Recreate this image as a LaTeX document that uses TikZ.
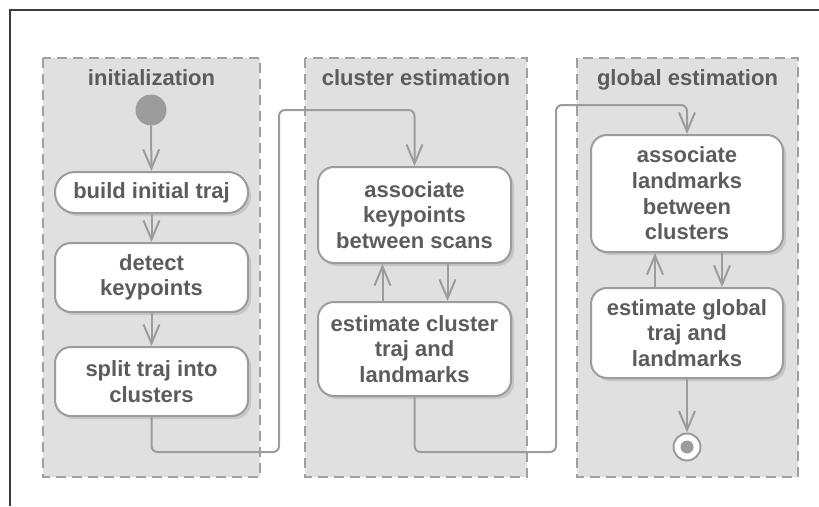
\documentclass[tikz,border=0pt]{standalone}
\usepackage{fontspec}
\setmainfont{Liberation Sans}
\usetikzlibrary{arrows.meta}

\definecolor{lanefill}{HTML}{E0E0E0}
\definecolor{lanedash}{HTML}{A0A0A0}
\definecolor{flow}{HTML}{9C9C9C}
\definecolor{inktext}{HTML}{5C5C5C}
\definecolor{boxshade}{HTML}{C6C6C6}
\definecolor{frameink}{HTML}{3C3C3C}

\begin{document}
\begin{tikzpicture}[x=1pt, y=-1pt,
  lane/.style={fill=lanefill, draw=lanedash, line width=2pt, dash pattern=on 10pt off 6pt},
  lanetitle/.style={anchor=base, text=inktext, inner sep=0pt,
    font=\bfseries\fontsize{22}{25}\selectfont},
  action/.style={draw=flow, line width=2pt, fill=white, align=center, text=inktext,
    inner sep=0pt, minimum width=193pt, rounded corners=16pt,
    font=\bfseries\fontsize{22}{25.6}\selectfont,
    preaction={fill=boxshade, transform canvas={shift={(3pt,-3pt)}}}},
  flowline/.style={draw=flow, line width=2pt, rounded corners=6pt,
    -{Straight Barb[length=19pt,width=16pt]}},
]
\useasboundingbox (0,0) rectangle (819,506);

% outer frame (top and left edges)
\draw[frameink, line width=1.5pt] (10,506) -- (10,10) -- (819,10);

% swimlanes
\draw[lane] (43,58) rectangle (260,477);
\draw[lane] (305,58) rectangle (527,477);
\draw[lane] (577,58) rectangle (798,477);

\node[lanetitle] (t1) at (151.5,85) {initialization};
\node[lanetitle] (t2) at (416,85) {cluster estimation};
\node[lanetitle] (t3) at (687.5,85) {global estimation};

% initialization lane
\node[circle, fill=flow, minimum size=31pt, inner sep=0pt] (start) at (151,110) {};
\node[action, minimum height=41pt, rounded corners=20pt] (b1) at (151.5,192.5) {build initial traj};
\node[action, minimum height=69pt] (b2) at (151.5,277.5) {detect\\keypoints};
\node[action, minimum height=69pt] (b3) at (151.5,381.5) {split traj into\\clusters};

% cluster estimation lane
\node[action, minimum height=96pt] (c1) at (414.5,215) {associate\\keypoints\\between scans};
\node[action, minimum height=94pt] (c2) at (414.5,349) {estimate cluster\\traj and\\landmarks};

% global estimation lane
\node[action, minimum height=117pt, minimum width=192pt] (g1) at (687,193.5) {associate\\landmarks\\between\\clusters};
\node[action, minimum height=90pt, minimum width=192pt] (g2) at (687,333) {estimate global\\traj and\\landmarks};

\node[circle, draw=flow, line width=2pt, fill=white, minimum size=27pt, inner sep=0pt] (stop) at (687,447) {};
\fill[flow] (stop.center) circle (6.5pt);

% control flow
\draw[flowline] (start) -- (b1);
\draw[flowline] (b1) -- (b2);
\draw[flowline] (b2) -- (b3);
\draw[flowline] (b3.south) -- ++(0,35) -| (279,110) -| (c1.north);

\draw[flowline] ([xshift=-32pt]c2.north) -- ([xshift=-32pt]c1.south);
\draw[flowline] ([xshift=33pt]c1.south) -- ([xshift=33pt]c2.north);
\draw[flowline] (c2.south) -- ++(0,55) -| (556,105) -| (g1.north);

\draw[flowline] ([xshift=-32pt]g2.north) -- ([xshift=-32pt]g1.south);
\draw[flowline] ([xshift=35pt]g1.south) -- ([xshift=35pt]g2.north);
\draw[flowline] (g2) -- (stop);
\end{tikzpicture}
\end{document}
